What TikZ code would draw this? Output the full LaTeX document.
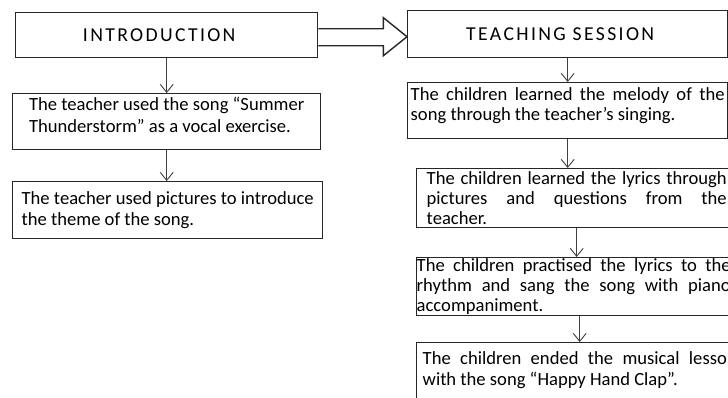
\documentclass[tikz,border=0pt]{standalone}
\usepackage{fontspec}
\setmainfont{Carlito}
\newfontfamily\headfont[LetterSpace=12]{Carlito}
\usetikzlibrary{arrows.meta}
\newcommand{\lowstrut}[1]{\rule[-#1]{0pt}{#1}}
\newcommand{\loosepar}{\tolerance=9999 \hbadness=10000 }
\tikzset{
	box/.style={draw=black!85, line width=1.4pt, anchor=north west, inner sep=0pt},
	lines/.style={font={\fontsize{18.6}{#1}\selectfont\loosepar}},
	head/.style={box, font={\headfont\fontsize{19.7}{22}\selectfont}},
	note/.style={box, align=left, lines=#1},
	just/.style={box, align=justify, text width=#1},
	down/.style={draw=black!75, line width=0.9pt, -{Straight Barb[length=8pt,width=13pt]}},
	hollow/.style={draw=black!85, line width=1.4pt, line join=miter},
}

\begin{document}
\begin{tikzpicture}[x=1pt,y=-1pt]
		\useasboundingbox (0,0) rectangle (728,397);
		\clip (0,0) rectangle (728,397);

		\node[head, minimum width=302pt, minimum height=45pt] (intro) at (15,12) {INTRODUCTION\hspace*{15pt}};
		\node[note=22pt, minimum width=308pt, minimum height=56pt] (song) at (12,93)
			{The teacher used the song “Summer\\Thunderstorm” as a vocal exercise.\lowstrut{13pt}};
		\node[note=21pt, minimum width=310pt, minimum height=57pt] (pics) at (12,181)
			{The teacher used pictures to introduce\\the theme of the song.};

		\node[head, minimum width=320pt, minimum height=47pt] (teach) at (407,10) {TEACHING SESSION\hspace*{15pt}};
		\node[just=314pt, lines=20pt, minimum width=320pt, minimum height=56pt] (melody) at (407,82)
			{The children learned the melody of the\linebreak song through the teacher’s singing.\lowstrut{14pt}};
		\node[just=300pt, lines=20pt, minimum width=320pt, minimum height=59pt] (lyrics) at (416,168)
			{The children learned the lyrics through\linebreak pictures and questions from the\linebreak teacher.};
		\node[just=314pt, lines=20pt, minimum width=314pt, minimum height=58pt] (rhythm) at (416,257)
			{The children practised the lyrics to the\linebreak rhythm and sang the song with piano\linebreak accompaniment.};
		\node[just=314pt, lines=21pt, minimum width=326pt, minimum height=70pt] (ending) at (416,342)
			{The children ended the musical lesson\linebreak with the song “Happy Hand Clap”.\lowstrut{18pt}};

		% block arrow between the two columns
		\draw[hollow] ([yshift=6.5pt]intro.east) -- ([xshift=65pt,yshift=6.5pt]intro.east)
			-- ([xshift=65pt,yshift=17.5pt]intro.east) -- ([yshift=-2.5pt]teach.west)
			-- ([xshift=65pt,yshift=-20.5pt]intro.east) -- ([xshift=65pt,yshift=-10.5pt]intro.east)
			-- ([yshift=-10.5pt]intro.east);

		\draw[down] (intro.south) -- (intro.south |- song.north);
		\draw[down] (song.south) -- (song.south |- pics.north);
		\draw[down] (teach.south) -- (teach.south |- melody.north);
		\draw[down] (melody.south) -- (melody.south |- lyrics.north);
		\draw[down] (lyrics.south) -- (lyrics.south |- rhythm.north);
		\draw[down] (rhythm.south -| ending.north) -- (ending.north);
	\end{tikzpicture}
\end{document}
